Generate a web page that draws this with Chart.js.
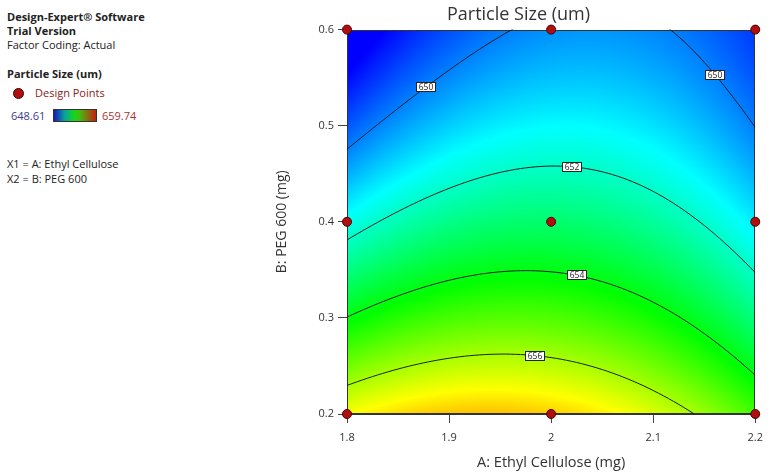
<!DOCTYPE html>
<html>
<head>
<meta charset="utf-8">
<title>Particle Size (um)</title>
<script src="https://cdn.jsdelivr.net/npm/chart.js@4.4.1/dist/chart.umd.min.js"></script>
<style>
  html, body { margin: 0; padding: 0; background: #fff; }
  body { width: 771px; height: 474px; position: relative; overflow: hidden; font-family: "Open Sans", sans-serif; }
  #chart { position: absolute; left: 0; top: 0; }
  .info { position: absolute; left: 7px; font-size: 11px; line-height: 14px; color: #222; white-space: nowrap; }
  .bold { font-weight: bold; }
  .dot { position: absolute; left: 13px; top: 88px; width: 9px; height: 9px; border-radius: 50%; background: #b00f0f; border: 1px solid #4a0000; }
  .bar { position: absolute; left: 53px; top: 109px; width: 42px; height: 11px; border: 1px solid #333;
         background: linear-gradient(to right, #1a1ab8, #0aa0a0 25%, #12d81a 48%, #40c010 60%, #c82010); }
</style>
</head>
<body>
<div class="info bold" style="top:10px">Design-Expert® Software</div>
<div class="info bold" style="top:24px">Trial Version</div>
<div class="info" style="top:38px">Factor Coding: Actual</div>
<div class="info bold" style="top:67px">Particle Size (um)</div>
<div class="dot"></div>
<div class="info" style="top:86px; left:35px; color:#8b2020">Design Points</div>
<div class="info" style="top:109px; left:11px; color:#3b3b8f">648.61</div>
<div class="bar"></div>
<div class="info" style="top:109px; left:102px; color:#b03030">659.74</div>
<div class="info" style="top:157px">X1 = A: Ethyl Cellulose</div>
<div class="info" style="top:172px">X2 = B: PEG 600</div>
<canvas id="chart" width="771" height="474"></canvas>
<script>
const FONT = '"Open Sans", sans-serif';

// factor levels in actual units (low, centre, high)
const A_LEVELS = [1.8, 2.0, 2.2];
const B_LEVELS = [0.2, 0.4, 0.6];

// design points
const DESIGN_A = [1.8, 1.8, 1.8, 2.0, 2.0, 2.0, 2.2, 2.2, 2.2];
const DESIGN_B = [0.2, 0.4, 0.6, 0.2, 0.4, 0.6, 0.2, 0.4, 0.6];

// quadratic model, coded factors: [intercept, A, B, AB, A^2, B^2]
const COEFFS = [652.99, -0.19, -3.66, 0.82, -1.61, 0.85];

// contour levels, and the A value where each label box sits
const LEVELS = [650, 652, 654, 656];
const LABEL_LEVEL = [650, 650, 652, 654, 656];
const LABEL_A = [1.877, 2.161, 2.02, 2.025, 1.984];

// colour scale
const RESP_MIN = 648.61;
const RESP_MAX = 659.74;
const RAMP = [[0, 0, 255], [0, 255, 255], [0, 255, 0], [255, 255, 0], [255, 0, 0]];

const code = (v, lv) => (v - lv[1]) / ((lv[2] - lv[0]) / 2);

function predict(A, B) {
  const a = code(A, A_LEVELS), b = code(B, B_LEVELS);
  const [c0, cA, cB, cAB, cAA, cBB] = COEFFS;
  return c0 + cA * a + cB * b + cAB * a * b + cAA * a * a + cBB * b * b;
}

// B (actual) where the model equals `level` for a given A; lower root
function solveB(A, level) {
  const a = code(A, A_LEVELS);
  const [c0, cA, cB, cAB, cAA, cBB] = COEFFS;
  const qa = cBB, qb = cB + cAB * a, qc = c0 + cA * a + cAA * a * a - level;
  const d = qb * qb - 4 * qa * qc;
  if (d < 0) return null;
  const b = (-qb - Math.sqrt(d)) / (2 * qa);
  return B_LEVELS[1] + b * (B_LEVELS[2] - B_LEVELS[0]) / 2;
}

function rampColor(v) {
  let t = (v - RESP_MIN) / (RESP_MAX - RESP_MIN);
  t = Math.min(1, Math.max(0, t)) * (RAMP.length - 1);
  const i = Math.min(RAMP.length - 2, Math.floor(t));
  const f = t - i;
  return RAMP[i].map((c, k) => Math.round(c + (RAMP[i + 1][k] - c) * f));
}

// filled response surface + plot frame
const surfacePlugin = {
  id: 'surface',
  beforeDatasetsDraw(chart) {
    const { ctx, chartArea: ca, scales: { x, y } } = chart;
    const left = Math.round(ca.left), top = Math.round(ca.top);
    const w = Math.round(ca.right) - left, h = Math.round(ca.bottom) - top;
    const img = ctx.createImageData(w, h);
    for (let j = 0; j < h; j++) {
      const B = y.getValueForPixel(top + j + 0.5);
      for (let i = 0; i < w; i++) {
        const A = x.getValueForPixel(left + i + 0.5);
        const c = rampColor(predict(A, B));
        const k = (j * w + i) * 4;
        img.data[k] = c[0];
        img.data[k + 1] = c[1];
        img.data[k + 2] = c[2];
        img.data[k + 3] = 255;
      }
    }
    ctx.putImageData(img, left, top);
    ctx.save();
    ctx.strokeStyle = '#333';
    ctx.lineWidth = 1;
    ctx.strokeRect(left + 0.5, top + 0.5, w - 1, h - 1);
    ctx.restore();
  }
};

// small boxed level labels on each contour line
const contourLabelPlugin = {
  id: 'contourLabels',
  afterDatasetDraw(chart, args) {
    const ds = chart.data.datasets[args.index];
    if (!ds.labelA) return;
    const { ctx, scales: { x, y } } = chart;
    ctx.save();
    ctx.font = '8.5px ' + FONT;
    ctx.textAlign = 'center';
    ctx.textBaseline = 'middle';
    ds.labelA.forEach(A => {
      const B = solveB(A, ds.level);
      if (B === null) return;
      const px = Math.round(x.getPixelForValue(A)), py = Math.round(y.getPixelForValue(B));
      const txt = String(ds.level);
      const bw = Math.ceil(ctx.measureText(txt).width) + 5, bh = 10;
      ctx.fillStyle = '#fff';
      ctx.fillRect(px - bw / 2, py - bh / 2, bw, bh);
      ctx.strokeStyle = '#222';
      ctx.lineWidth = 1;
      ctx.strokeRect(px - bw / 2 + 0.5, py - bh / 2 + 0.5, bw - 1, bh - 1);
      ctx.fillStyle = '#222';
      ctx.fillText(txt, px, py + 0.5);
    });
    ctx.restore();
  }
};

const contourSets = LEVELS.map(level => {
  const pts = [];
  for (let k = 0; k <= 80; k++) {
    const A = A_LEVELS[0] + (A_LEVELS[2] - A_LEVELS[0]) * k / 80;
    const B = solveB(A, level);
    if (B !== null) pts.push({ x: A, y: B });
  }
  return {
    type: 'line', level, data: pts,
    labelA: LABEL_A.filter((_, i) => LABEL_LEVEL[i] === level),
    borderColor: '#1e1e1e', borderWidth: 1, pointRadius: 0, tension: 0, fill: false
  };
});

const tickFmt = v => String(+v.toFixed(2));

new Chart(document.getElementById('chart'), {
  type: 'scatter',
  data: {
    datasets: [
      {
        label: 'Design Points',
        data: DESIGN_A.map((a, i) => ({ x: a, y: DESIGN_B[i] })),
        pointRadius: 4.5, backgroundColor: '#b00f0f', borderColor: '#4a0000', borderWidth: 1,
        clip: false
      },
      ...contourSets
    ]
  },
  options: {
    responsive: false,
    animation: false,
    layout: { padding: { left: 273, right: 7, top: 0, bottom: 0 }, autoPadding: false },
    plugins: {
      legend: { display: false },
      tooltip: { enabled: false },
      title: {
        display: true, text: 'Particle Size (um)', color: '#333',
        font: { family: FONT, size: 18, weight: 'normal' },
        padding: { top: 4, bottom: 4 }
      }
    },
    scales: {
      x: {
        type: 'linear', min: A_LEVELS[0], max: A_LEVELS[2],
        afterFit: s => { s.height = 60; },
        ticks: { stepSize: 0.1, callback: tickFmt, color: '#333', font: { family: FONT, size: 11 }, padding: 8, maxRotation: 0 },
        grid: { drawOnChartArea: false, tickLength: 9, color: '#444' },
        border: { color: '#333' },
        title: { display: true, text: 'A: Ethyl Cellulose (mg)', color: '#333', font: { family: FONT, size: 14.5 }, padding: { top: 0, bottom: 2 } }
      },
      y: {
        type: 'linear', min: B_LEVELS[0], max: B_LEVELS[2],
        afterFit: s => { s.width = 74; },
        ticks: { stepSize: 0.1, callback: tickFmt, color: '#333', font: { family: FONT, size: 11 }, padding: 4 },
        grid: { drawOnChartArea: false, tickLength: 9, color: '#444' },
        border: { color: '#333' },
        title: { display: true, text: 'B: PEG 600 (mg)', color: '#333', font: { family: FONT, size: 14 }, padding: { top: 1, bottom: 0 } }
      }
    }
  },
  plugins: [surfacePlugin, contourLabelPlugin]
});
</script>
</body>
</html>
